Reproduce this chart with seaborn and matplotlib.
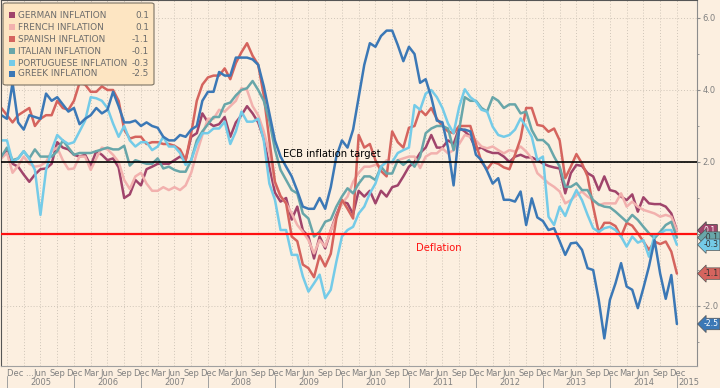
import numpy as np
import pandas as pd
import matplotlib
matplotlib.use("Agg")
import matplotlib.pyplot as plt
import matplotlib.transforms as mtransforms
from matplotlib.patches import FancyBboxPatch, Rectangle
import seaborn as sns

# monthly readings, Nov 2004 .. Dec 2014 (yoy %)
dates = pd.date_range("2004-11-30", periods=122, freq="ME")

german = [2.15, 2.3, 1.95, 1.87, 1.65, 1.45, 1.65, 1.8, 1.82, 1.95, 2.55, 2.4, 2.35, 2.2, 2.15, 2.2, 1.9,
          2.3, 2.2, 2.05, 2.1, 1.85, 1.0, 1.1, 1.5, 1.35, 1.8, 1.87, 1.95, 1.95, 1.95, 2.05, 2.15,
          2.05, 2.7, 2.8, 3.35, 3.1, 3.0, 3.05, 3.25, 2.7, 3.1, 3.3, 3.55, 3.35, 3.1, 2.65, 1.87, 1.15,
          0.9, 1.0, 0.4, 0.76, 0.1, -0.07, -0.68, -0.07, -0.4, 0.1, 0.53, 0.9, 0.85,
          0.55, 1.2, 1.04, 1.2, 0.85, 1.2, 1.04, 1.3, 1.35, 1.6, 1.87, 2.0, 2.25, 2.4, 2.75, 2.4, 2.4,
          2.6, 2.5, 2.95, 2.85, 2.7, 2.35, 2.4, 2.3, 2.25, 2.25, 2.15, 2.0, 2.15,
          2.2, 2.13, 2.13, 2.05, 1.96, 1.89, 1.85, 1.82, 1.13, 1.69, 1.92, 1.89, 1.69, 1.6, 1.22, 1.6,
          1.22, 1.18, 1.04, 0.94, 1.1, 0.62, 1.02, 0.85, 0.83, 0.83, 0.76, 0.57, 0.1]
french = [2.1, 2.25, 1.7, 1.9, 2.15, 1.95, 1.87, 1.9, 2.0, 2.3, 2.4, 2.05, 1.8, 1.82, 2.15, 2.15, 1.78,
          2.1, 2.4, 2.35, 2.2, 2.0, 1.5, 1.25, 1.6, 1.7, 1.4, 1.2, 1.2, 1.3, 1.22,
          1.3, 1.22, 1.35, 1.7, 2.25, 2.75, 3.2, 3.2, 3.45, 3.4, 3.55, 3.7, 4.05, 4.0, 3.55, 3.3, 2.85,
          2.25, 1.4, 1.05, 0.85, 0.57, 0.25, 0.06, -0.17, -0.54, -0.17, -0.35, 0.1, 0.48, 0.85, 1.04,
          1.45, 1.7, 1.87, 1.87, 1.92, 1.87, 2.05, 1.96, 2.05, 2.1, 2.15, 2.15, 1.83, 2.15, 2.24, 2.24,
          2.38, 2.24, 2.33, 2.5, 2.75, 2.7, 2.6, 2.43, 2.38, 2.43, 2.33, 2.24, 2.33, 2.29,
          2.43, 2.29, 2.1, 1.69, 1.55, 1.41, 1.31, 1.18, 0.85, 0.94, 1.08, 1.18, 1.04, 0.94, 0.8, 0.85,
          0.85, 0.85, 1.13, 0.76, 0.9, 0.76, 0.67, 0.62, 0.57, 0.48, 0.53, 0.48, 0.1]
spanish = [3.5, 3.3, 3.1, 3.3, 3.4, 3.5, 3.0, 3.2, 3.3, 3.3, 3.7, 3.5, 3.45, 3.7, 4.2, 4.15, 3.95,
           3.95, 4.1, 4.0, 4.0, 3.7, 2.9, 2.65, 2.7, 2.7, 2.5, 2.55, 2.55, 2.5, 2.5,
           2.45, 2.35, 2.05, 2.8, 3.7, 4.15, 4.35, 4.4, 4.4, 4.6, 4.3, 4.75, 5.05, 5.3, 4.95, 4.7, 3.85,
           2.6, 1.45, 1.05, 0.85, -0.07, -0.2, -0.85, -0.95, -1.2, -0.6, -0.9, -0.55, 0.43, 0.95, 0.7,
           0.43, 2.75, 2.4, 2.5, 2.05, 1.75, 1.6, 2.85, 2.55, 2.4, 2.95, 3.0, 3.45, 3.3, 3.5, 3.2,
           3.0, 2.85, 2.8, 3.0, 3.0, 3.0, 2.5, 2.0, 1.8, 2.0, 1.95, 1.85, 1.8, 2.2,
           2.65, 3.5, 3.5, 3.03, 3.0, 2.84, 2.93, 2.6, 1.55, 1.87, 2.22, 1.96, 1.6, 0.76, 0.04, 0.31,
           0.31, 0.22, -0.07, 0.31, 0.23, 0.02, -0.21, -0.44, -0.21, -0.28, -0.21, -0.49, -1.1]
italian = [2.15, 2.4, 2.05, 2.1, 2.3, 2.1, 2.35, 2.15, 2.15, 2.15, 2.3, 2.6, 2.4, 2.2, 2.25, 2.25, 2.25,
           2.3, 2.35, 2.4, 2.35, 2.35, 2.45, 1.9, 2.05, 2.0, 1.95, 1.95, 2.1, 1.82, 1.87, 1.78, 1.73,
           1.73, 2.05, 2.6, 2.85, 3.05, 3.25, 3.25, 3.6, 3.65, 3.85, 4.0, 4.05, 4.25, 4.0, 3.7, 3.15,
           2.35, 1.78, 1.5, 1.22, 1.13, 0.57, 0.43, -0.07, 0.06, 0.34, 0.4, 0.76, 1.04, 1.27,
           1.13, 1.4, 1.6, 1.6, 1.5, 1.87, 1.68, 1.68, 2.05, 1.92, 2.05, 1.87, 2.15, 2.8, 2.93, 3.0,
           3.0, 2.93, 2.33, 2.9, 3.8, 3.7, 3.7, 3.5, 3.4, 3.8, 3.7, 3.5, 3.6, 3.6,
           3.35, 3.4, 2.89, 2.61, 2.61, 2.47, 2.15, 1.87, 1.31, 1.31, 1.41, 1.22, 1.22, 0.94, 0.82, 0.76,
           0.74, 0.62, 0.48, 0.34, 0.53, 0.39, 0.2, 0.02, -0.12, 0.06, 0.25, 0.34, -0.1]
portuguese = [2.6, 2.6, 2.0, 2.1, 2.3, 2.1, 1.78, 0.53, 1.78, 2.33, 2.75, 2.6, 2.5, 2.55, 2.85, 3.15, 3.8,
              3.77, 3.7, 3.5, 3.07, 2.7, 3.0, 2.6, 2.43, 2.55, 2.55, 2.33, 2.43, 2.7, 2.43, 2.43, 2.25,
              1.92, 2.05, 2.5, 2.8, 2.8, 2.93, 2.93, 3.12, 2.5, 2.85, 3.4, 3.12, 3.12, 3.2, 2.6, 1.4,
              0.95, 0.11, 0.11, -0.58, -0.58, -1.18, -1.6, -1.37, -1.13, -1.78, -1.55, -0.77, -0.07, 0.11,
              0.2, 0.57, 0.76, 1.13, 1.4, 1.87, 2.0, 2.0, 2.25, 2.33, 2.4, 3.58, 3.45, 3.9, 4.0, 3.8,
              3.5, 3.07, 2.8, 3.53, 4.02, 3.8, 3.68, 3.45, 3.4, 2.98, 2.75, 2.7, 2.75, 2.9,
              3.21, 2.98, 2.7, 2.05, 2.15, 0.48, 0.25, 0.76, 0.5, 0.9, 1.22, 0.94, 0.53, 0.16, 0.06, 0.16,
              0.2, 0.11, -0.07, -0.35, -0.07, -0.24, -0.17, -0.63, -0.03, 0.02, 0.11, 0.11, -0.3]
greek = [3.3, 3.2, 4.2, 3.1, 2.9, 3.3, 3.25, 3.2, 3.9, 3.7, 3.8, 3.6, 3.4, 3.5, 3.05, 3.2, 3.3,
         3.5, 3.35, 3.45, 3.95, 3.55, 3.1, 3.1, 3.15, 3.0, 3.1, 3.0, 2.95, 2.7, 2.6, 2.6, 2.75,
         2.7, 2.9, 3.0, 3.7, 3.95, 3.95, 4.5, 4.4, 4.4, 4.9, 4.9, 4.9, 4.85, 4.7, 4.1, 3.35,
         2.6, 2.15, 1.87, 1.6, 1.2, 0.76, 0.7, 0.7, 1.0, 0.7, 1.3, 2.15, 2.6, 2.4,
         2.9, 3.8, 4.7, 5.3, 5.2, 5.5, 5.65, 5.65, 5.25, 4.8, 5.2, 5.0, 4.2, 4.3, 3.8, 3.15,
         3.1, 2.4, 1.35, 2.9, 2.9, 2.85, 2.2, 2.05, 1.75, 1.4, 1.55, 0.95, 0.95, 0.9,
         1.18, 0.25, 0.99, 0.46, 0.36, 0.11, 0.16, -0.2, -0.58, -0.26, -0.24, -0.44, -0.95, -1.0, -1.83, -2.9,
         -1.83, -1.37, -0.81, -1.46, -1.55, -2.06, -1.5, -0.9, -0.17, -1.1, -1.8, -1.14, -2.5]

names = ["GERMAN INFLATION", "FRENCH INFLATION", "SPANISH INFLATION",
         "ITALIAN INFLATION", "PORTUGUESE INFLATION", "GREEK INFLATION"]
series = [german, french, spanish, italian, portuguese, greek]
colors = ["#a0446b", "#f2b1ae", "#d5645e", "#68a6a9", "#74cbe8", "#3b78b6"]
tag_text = ["white", "#333333", "#333333", "#333333", "#333333", "white"]

ecb_target = 2.0
deflation = 0.0

month_idx = (dates.year - 2004) * 12 + dates.month - 11
df = pd.DataFrame({"k": month_idx})
for n, s in zip(names, series):
    df[n] = s
df = df.melt(id_vars="k", var_name="country", value_name="value")

bg = "#fcefe0"
sns.set_style("white", {"axes.facecolor": bg, "figure.facecolor": bg})
plt.rcParams["font.family"] = ["DejaVu Sans"]

fig = plt.figure(figsize=(7.2, 3.88), dpi=100)
ax = fig.add_axes([1 / 720, 22 / 388, 696 / 720, 366 / 388])

sns.lineplot(data=df, x="k", y="value", hue="country", hue_order=names,
             palette=colors, linewidth=1.8, legend=False, ax=ax, zorder=2)

ax.axhline(ecb_target, color="black", lw=1.2, zorder=3)
ax.axhline(deflation, color="#ff1010", lw=1.6, zorder=3)
ax.text(50.5, ecb_target + 0.07, "ECB inflation target", fontsize=7.2, color="black",
        ha="left", va="bottom", zorder=4)
ax.text(74.3, deflation - 0.38, "Deflation", fontsize=7.2, color="#ff1010",
        ha="left", va="center", zorder=4)

ax.set_xlim(-0.07, 124.6)
ax.set_ylim(-3.667, 6.5)
ax.set_xlabel("")
ax.set_ylabel("")

# right-hand value axis
ax.yaxis.tick_right()
ax.set_yticks([-2, 0, 2, 4, 6])
ax.set_yticklabels(["-2.0", "", "2.0", "4.0", "6.0"])
ax.set_yticks([-3, -1, 1, 3, 5], minor=True)
ax.tick_params(axis="y", which="both", direction="out", color="#8c8c8c",
               labelsize=6, labelcolor="#808080", pad=1.5)
ax.tick_params(axis="y", which="major", length=2.5)
ax.tick_params(axis="y", which="minor", length=1.5)

# quarterly month ticks
q_k = list(range(1, 122, 3))
q_lab = [dates[k].strftime("%b") for k in q_k]
q_lab[0] = "Dec ..."
q_lab[1] = ""
ax.set_xticks(q_k)
ax.set_xticklabels(q_lab)
ax.tick_params(axis="x", direction="out", length=2, color="#8c8c8c",
               labelsize=6, labelcolor="#808080", pad=0.5)
first = ax.get_xticklabels()[0]
first.set_horizontalalignment("left")
first.set_x(q_k[0] - 0.4)

ax.grid(True, axis="both", which="major", ls=(0, (1, 2)), color="#cfc5b8", lw=0.7)

# year row
xt = ax.get_xaxis_transform()
for yr in range(2005, 2016):
    k0 = (yr - 2005) * 12 + 1
    ax.plot([k0, k0], [-0.028, -0.062], transform=xt, color="#a0a0a0", lw=0.7, clip_on=False)
    if yr < 2015:
        ax.text(k0 + 6, -0.044, str(yr), transform=xt, ha="center", va="center",
                fontsize=6, color="#808080")
    else:
        ax.text(k0 + 0.3, -0.044, str(yr), transform=xt, ha="left", va="center",
                fontsize=6, color="#808080")

for side in ["left", "top"]:
    ax.spines[side].set_color("#555555")
ax.spines["right"].set_color("#8c8c8c")
ax.spines["bottom"].set_color("#a0a0a0")
for sp in ax.spines.values():
    sp.set_linewidth(0.8)

# value tags on the right edge
yt = mtransforms.blended_transform_factory(ax.transAxes, ax.transData)
for i in [1, 0, 3, 4, 2, 5]:
    v = series[i][-1]
    ax.text(1.0095, v, f"{v:.1f}", transform=yt, ha="left", va="center", fontsize=5.6,
            color=tag_text[i], clip_on=False, zorder=6,
            bbox=dict(boxstyle="larrow,pad=0.16", fc=colors[i], ec="#555555", lw=0.5))

# legend box
def fx(px):
    return px / 720

def fy(py):
    return 1 - py / 388

fig.patches.append(FancyBboxPatch((fx(3), fy(85)), fx(151), 82 / 388,
                                  boxstyle="round,pad=0,rounding_size=0.004",
                                  transform=fig.transFigure, fc="#fde5c2", ec="#7b7263",
                                  lw=0.8, zorder=10))
rows = [15, 27, 39, 51, 63, 74]
for n, c, s, ry in zip(names, colors, series, rows):
    fig.patches.append(Rectangle((fx(9), fy(ry + 3)), fx(6), 6 / 388, transform=fig.transFigure,
                                 fc=c, ec="none", zorder=11))
    fig.text(fx(18), fy(ry), n, fontsize=6.4, color="#6b6b6b", va="center", ha="left", zorder=12)
    fig.text(fx(149), fy(ry), f"{s[-1]:.1f}", fontsize=6.4, color="#6b6b6b", va="center",
             ha="right", zorder=12)

fig.savefig("out.png", dpi=100, facecolor=bg)
